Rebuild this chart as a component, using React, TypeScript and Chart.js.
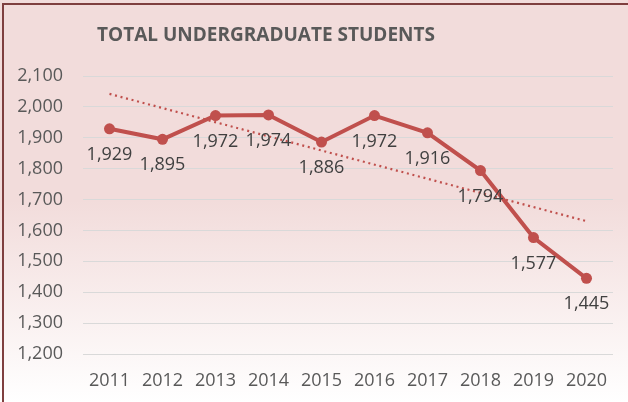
import React, { useEffect, useRef } from "react";
import { Chart, registerables } from "chart.js";

Chart.register(...registerables);

const years = ["2011", "2012", "2013", "2014", "2015", "2016", "2017", "2018", "2019", "2020"];
const students = [1929, 1895, 1972, 1974, 1886, 1972, 1916, 1794, 1577, 1445];
// linear trendline, read at its two ends
const trend = [2042, null, null, null, null, null, null, null, null, 1630];
const yMin = 1200;
const yMax = 2100;
const yStep = 100;
const titleText = "TOTAL UNDERGRADUATE STUDENTS";

const RED = "#C0504D";
const FONT = "'Open Sans', 'Noto Sans', sans-serif";

const fmt = (v: number) => Number(v).toLocaleString("en-US");

const backgroundPlugin = {
  id: "bgBorder",
  beforeDraw(chart: any) {
    const { ctx, width, height } = chart;
    ctx.save();
    const g = ctx.createLinearGradient(0, 0, 0, height);
    g.addColorStop(0, "#F2DCDB");
    g.addColorStop(0.5, "#F2DCDB");
    g.addColorStop(1, "#FFFFFF");
    ctx.fillStyle = g;
    ctx.fillRect(0, 0, width, height);
    ctx.strokeStyle = "#7F3F3F";
    ctx.lineWidth = 2;
    ctx.beginPath();
    ctx.moveTo(3, height);
    ctx.lineTo(3, 4);
    ctx.lineTo(width, 4);
    ctx.stroke();
    ctx.restore();
  },
  afterDraw(chart: any) {
    const { ctx } = chart;
    ctx.save();
    ctx.font = `bold 19px ${FONT}`;
    ctx.fillStyle = "#595959";
    ctx.textAlign = "center";
    ctx.textBaseline = "middle";
    ctx.fillText(titleText, 266, 36);
    ctx.restore();
  },
};

const labelPlugin = {
  id: "pointLabels",
  afterDatasetsDraw(chart: any) {
    const { ctx } = chart;
    const meta = chart.getDatasetMeta(0);
    ctx.save();
    ctx.font = `18px ${FONT}`;
    ctx.fillStyle = "#404040";
    ctx.textAlign = "center";
    ctx.textBaseline = "middle";
    meta.data.forEach((pt: any, i: number) => {
      ctx.fillText(fmt(students[i]), pt.x, pt.y + 26);
    });
    ctx.restore();
  },
};

export default function App() {
  const ref = useRef<HTMLCanvasElement>(null);
  useEffect(() => {
    if (!ref.current) return;
    const chart = new Chart(ref.current, {
      type: "line",
      data: {
        labels: years,
        datasets: [
          {
            data: students,
            borderColor: RED,
            backgroundColor: RED,
            borderWidth: 4,
            pointRadius: 5.5,
            pointBackgroundColor: RED,
            pointBorderWidth: 0,
            tension: 0,
          },
          {
            data: trend,
            borderColor: RED,
            borderWidth: 2.2,
            borderDash: [2, 3.7],
            pointRadius: 0,
            spanGaps: true,
            tension: 0,
          },
        ],
      },
      plugins: [backgroundPlugin, labelPlugin],
      options: {
        responsive: false,
        animation: false,
        devicePixelRatio: 1,
        layout: { padding: { left: 0, right: 15, top: 76, bottom: 0 } },
        plugins: {
          legend: { display: false },
          title: { display: false },
          tooltip: { enabled: false },
        },
        scales: {
          x: {
            offset: true,
            grid: { display: false, drawTicks: false },
            border: { display: false },
            ticks: { color: "#595959", font: { family: FONT, size: 18 }, padding: 16, maxRotation: 0 },
            afterFit: (s: any) => { s.height = 48; },
          },
          y: {
            min: yMin,
            max: yMax,
            grid: { color: "#D9D9D9", lineWidth: 1, drawTicks: false },
            border: { display: false },
            ticks: {
              stepSize: yStep,
              color: "#595959",
              font: { family: FONT, size: 18 },
              padding: 20,
              callback: (v: any) => fmt(v),
            },
            afterFit: (s: any) => { s.width = 83; },
          },
        },
      },
    });
    return () => chart.destroy();
  }, []);
  return (
    <div style={{ position: "fixed", left: 0, top: 0, width: 628, height: 402 }}>
      <canvas ref={ref} width={628} height={402} />
    </div>
  );
}
